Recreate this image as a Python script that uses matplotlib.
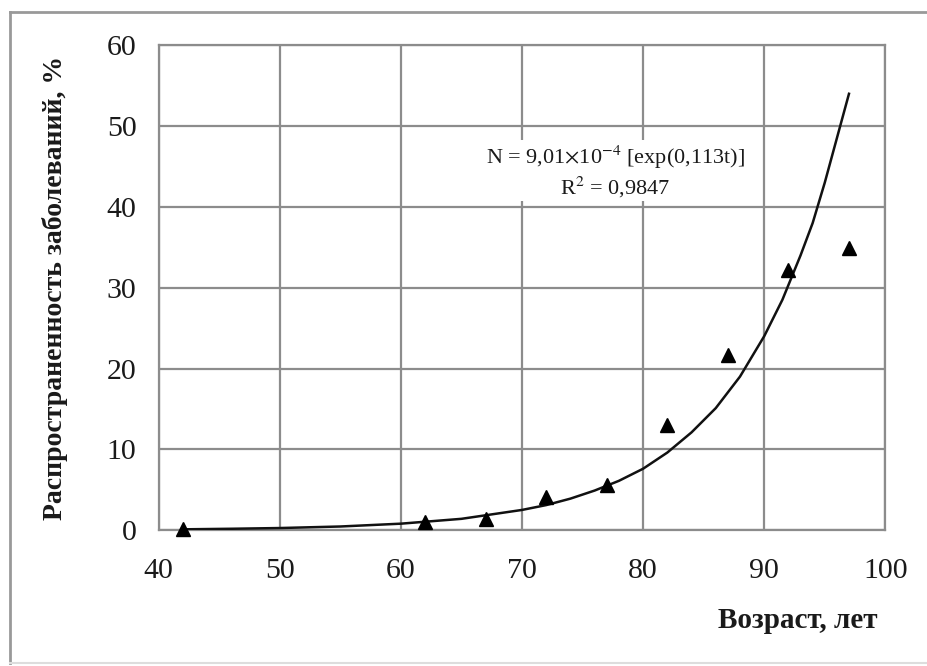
import matplotlib.pyplot as plt
from matplotlib.lines import Line2D

plt.rcParams['font.family'] = ['Liberation Serif', 'DejaVu Serif']
plt.rcParams['mathtext.fontset'] = 'stix'

# --- Daten ---
age = [42, 62, 67, 72, 77, 82, 87, 92, 97]
prevalence = [0.2, 1.0, 1.4, 4.1, 5.6, 13.0, 21.7, 32.2, 34.9]

# Trendlinie
curve_x = [42, 46, 50, 55, 60, 65, 70, 72, 74, 76, 78, 80, 82, 84, 86, 88, 90, 91.5, 93,
           94, 95, 96, 97]
curve_y = [0.1, 0.17, 0.26, 0.45, 0.8, 1.4, 2.5, 3.1, 3.9, 4.9, 6.1, 7.6, 9.6, 12.1, 15.1,
           19.0, 24.0, 28.5, 34.0, 38.0, 43.0, 48.5, 54.0]

x_ticks = [40, 50, 60, 70, 80, 90, 100]
y_ticks = [0, 10, 20, 30, 40, 50, 60]

fig = plt.figure(figsize=(9.28, 6.66), dpi=100)
ax = fig.add_axes([0.171, 0.204, 0.783, 0.728])

grid_c = '#8c8c8c'
txt_c = '#1a1a1a'
ax.set_xlim(40, 100)
ax.set_ylim(0, 60)
ax.set_xticks(x_ticks)
ax.set_yticks(y_ticks)
ax.grid(True, color=grid_c, lw=1.6)
for s in ax.spines.values():
    s.set_color(grid_c)
    s.set_linewidth(1.6)
ax.tick_params(length=0, labelsize=21.5, colors=txt_c)
ax.tick_params(axis='y', pad=16)
ax.tick_params(axis='x', pad=20)

ax.plot(curve_x, curve_y, color='#111111', lw=1.8, zorder=3)
ax.plot(age, prevalence, linestyle='none', marker='^', ms=9.5, color='black', zorder=4,
        clip_on=False)

ax.text(0.628, 0.74, r'N = 9,01$\times$10$^{-4}$ [exp(0,113t)]' + '\n' + r'R$^2$ = 0,9847',
        transform=ax.transAxes, ha='center', va='center', fontsize=16,
        linespacing=1.2, color=txt_c,
        bbox=dict(facecolor='white', edgecolor='none', pad=1))

ax.set_ylabel('Распространенность заболеваний, %', fontsize=20, fontweight='bold',
              labelpad=28, color=txt_c)
fig.text(0.86, 0.069, 'Возраст, лет', ha='center', va='center', fontsize=21,
         fontweight='bold', color=txt_c)

# рамка вокруг рисунка
fig.add_artist(Line2D([10 / 928, 10 / 928], [1 - 12 / 666, 1 - 663 / 666],
                      transform=fig.transFigure, color='#999999', lw=2))
fig.add_artist(Line2D([10 / 928, 1.0], [1 - 12 / 666, 1 - 12 / 666],
                      transform=fig.transFigure, color='#999999', lw=2))
fig.add_artist(Line2D([10 / 928, 1.0], [1 - 663 / 666, 1 - 663 / 666],
                      transform=fig.transFigure, color='#dddddd', lw=1.5))

fig.savefig('out.png', dpi=100)
